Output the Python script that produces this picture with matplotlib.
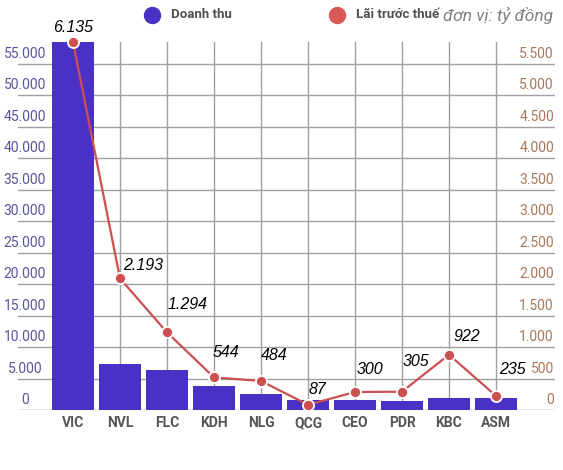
import matplotlib
matplotlib.use("Agg")
import matplotlib.pyplot as plt
from matplotlib.lines import Line2D

# du lieu (ty dong)
ma_cp = ["VIC", "NVL", "FLC", "KDH", "NLG", "QCG", "CEO", "PDR", "KBC", "ASM"]
doanh_thu = [58500, 7300, 6350, 3800, 2500, 1600, 1650, 1450, 1950, 1900]
lai_truoc_thue = [6135, 2193, 1294, 544, 484, 87, 300, 305, 922, 235]
nhan_lai = ["6.135", "2.193", "1.294", "544", "484", "87", "300", "305", "922", "235"]

left_ticks = [0, 5000, 10000, 15000, 20000, 25000, 30000, 35000, 40000, 45000, 50000, 55000]
left_labels = ["0", "5.000", "10.000", "15.000", "20.000", "25.000", "30.000",
               "35.000", "40.000", "45.000", "50.000", "55.000"]
right_labels = ["0", "500", "1.000", "1.500", "2.000", "2.500", "3.000",
                "3.500", "4.000", "4.500", "5.000", "5.500"]

# vi tri nhan so lieu so voi diem (px): dx, dy, canh ngang
label_off = [(0, 15, "center"), (3, 13, "left"), (1, 28, "left"), (-1, 25, "left"),
             (0, 25, "left"), (1, 15, "left"), (2, 23, "left"), (1, 30, "left"),
             (4, 18, "left"), (3, 26, "left")]

BAR = "#4b30c6"
LINE = "#cc5050"
GRID = "#a0a0a0"
UI = ["Roboto", "DejaVu Sans"]

plt.rcParams["font.family"] = ["Liberation Sans", "DejaVu Sans"]

W, H = 563, 470
fig = plt.figure(figsize=(W / 100, H / 100), dpi=100)
ax = fig.add_axes([18 / W, 60 / H, 537 / W, 368 / H])

x = list(range(len(ma_cp)))
l_top = 58500
r_top = lai_truoc_thue[0]

ax.set_xlim((18 - 73) / 47, (555 - 73) / 47)
ax.set_ylim(0, l_top)
for s in ax.spines.values():
    s.set_visible(False)
ax.set_xticks([])
ax.set_yticks([])

# luoi
for v in left_ticks:
    ax.axhline(v, color="#909090" if v == 0 else GRID, lw=1, zorder=0)
for i in x:
    ax.axvline(i, color=GRID, lw=1, zorder=0)

ax.bar(x, doanh_thu, width=42 / 47, color=BAR, zorder=2)

ax2 = ax.twinx()
ax2.set_ylim(0, r_top)
ax2.set_yticks([])
for s in ax2.spines.values():
    s.set_visible(False)
ax2.plot(x, lai_truoc_thue, color=LINE, lw=1.6, zorder=3,
         marker="o", markersize=8, markerfacecolor=LINE,
         markeredgecolor="white", markeredgewidth=1.3, clip_on=False)

for i, (v, t) in enumerate(zip(lai_truoc_thue, nhan_lai)):
    dx, dy, ha = label_off[i]
    ax2.annotate(t, xy=(i, v), xytext=(dx * 0.72, dy * 0.72), textcoords="offset points",
                 ha=ha, va="center", fontsize=11.5, style="italic", color="black",
                 annotation_clip=False)

# nhan truc
for v, t, rt in zip(left_ticks, left_labels, right_labels):
    ax.annotate(t, xy=((25 - 18) / 537, v), xycoords=ax.get_yaxis_transform(),
                xytext=(0, 7.2), textcoords="offset points", ha="center", va="center",
                fontsize=10, color="#55559c", family=UI)
    ax.annotate(rt, xy=((554 - 18) / 537, v), xycoords=ax.get_yaxis_transform(),
                xytext=(0, 7.2), textcoords="offset points", ha="right", va="center",
                fontsize=10, color="#a8785a", family=UI)

for i, t in enumerate(ma_cp):
    ax.annotate(t, xy=(i, 0), xytext=(0, -9.4), textcoords="offset points",
                ha="center", va="center", fontsize=10, fontweight="bold",
                color="#555555", family=UI)

# chu giai
ly = 1 - 15 / H
fig.add_artist(Line2D([152 / W], [ly], marker="o", markersize=11.5, color=BAR,
                      transform=fig.transFigure))
fig.text(171 / W, ly, "Doanh thu", ha="left", va="center", fontsize=9.5,
         fontweight="bold", color="#505050", family=UI)
fig.add_artist(Line2D([337 / W], [ly], marker="o", markersize=11.5, color="#d85858",
                      transform=fig.transFigure))
fig.text(356 / W, ly, "Lãi trước thuế", ha="left", va="center", fontsize=9.5,
         fontweight="bold", color="#505050", family=UI)
fig.text(443 / W, ly, "đơn vị: tỷ đồng", ha="left", va="center", fontsize=12.5,
         style="italic", color="#808080", family=UI)

fig.savefig("out.png", dpi=100, facecolor="white")
